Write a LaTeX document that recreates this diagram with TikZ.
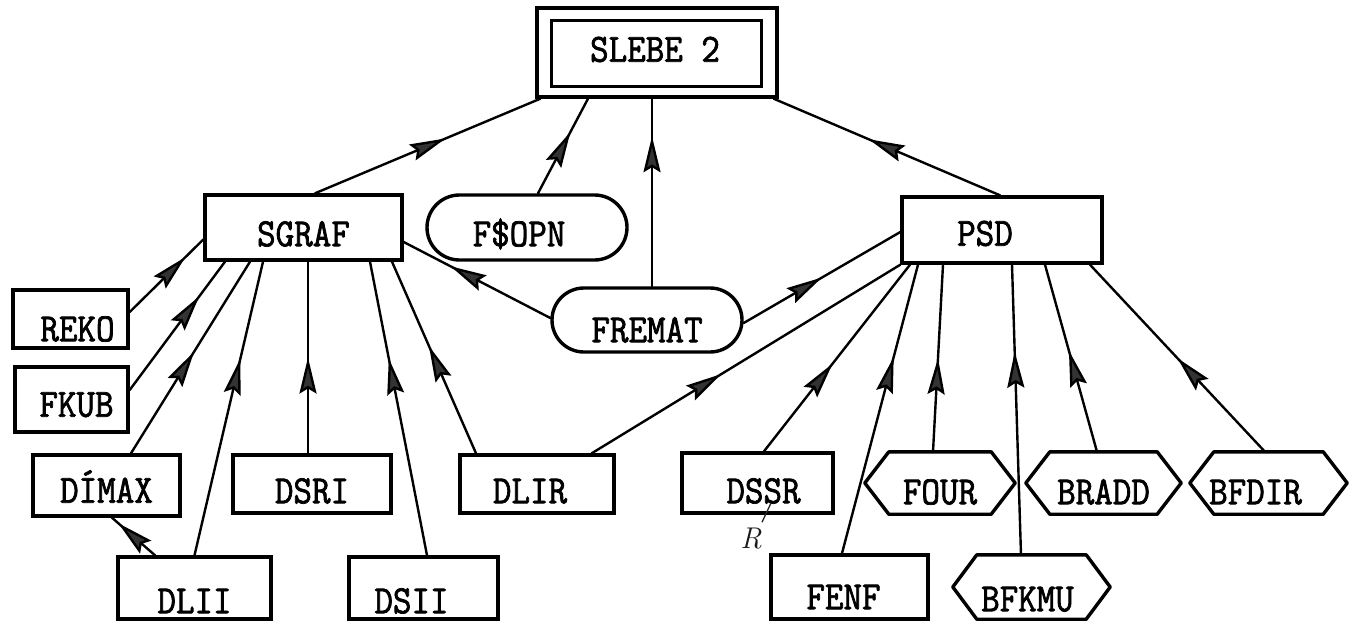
\documentclass[tikz,border=0pt]{standalone}
\usepackage{fontspec}
\newfontfamily\tw[FakeBold=1.8,FakeStretch=0.9]{Latin Modern Mono}
\usetikzlibrary{arrows.meta,decorations.markings,shapes.misc,calc}
\tikzset{
  bx/.style={draw, line width=3.4pt, rectangle, inner sep=0pt},
  pill/.style={draw, line width=3.4pt, rounded rectangle, inner sep=0pt},
  hx/.style={inner sep=0pt},
  lbl/.style={font=\tw\fontsize{40}{42}\selectfont, text height=24.4pt, text depth=0pt, inner sep=0pt},
  hexline/.style={line width=3.4pt, line join=round},
  conn/.style={line width=2.4pt, line cap=round, postaction={decorate},
    decoration={markings, mark=at position #1 with {\arrow{Stealth[length=36pt,width=17pt,inset=5pt,fill=black!80,color=black]}}}},
}
\newcommand\hexpath[1]{\draw[hexline] (#1.west) -- ([xshift=24pt]#1.north west) -- ([xshift=-24pt]#1.north east) -- (#1.east) -- ([xshift=-24pt]#1.south east) -- ([xshift=24pt]#1.south west) -- cycle;}
\begin{document}
\begin{tikzpicture}[x=1pt,y=-1pt]
\useasboundingbox (0,0) rectangle (1355,622);
\fill[white] (0,0) rectangle (1355,622);

% top
\node[bx, minimum width=240pt, minimum height=89pt, label={[lbl,name=slebeT,shift={(-2,-3)}]center:SLEBE 2}] (slebe) at (657,52.5) {};
\draw[line width=3.4pt] ($(slebe.south west)+(16,-12)$) rectangle ($(slebe.north east)+(-17,14)$);

% second level
\node[bx, minimum width=197pt, minimum height=65pt, label={[lbl,name=sgrafT,shift={(0,6.5)}]center:SGRAF}] (sgraf) at (303.5,227.5) {};
\node[pill, minimum width=200pt, minimum height=65pt, label={[lbl,name=fopnT,shift={(-8,6.5)}]center:F\$OPN}] (fopn) at (527,227.5) {};
\node[bx, minimum width=200pt, minimum height=66pt, label={[lbl,name=psdT,shift={(-17,3.5)}]center:PSD}] (psd) at (1002,230) {};
\node[pill, minimum width=190pt, minimum height=64pt, label={[lbl,name=frematT,shift={(0,10)}]center:FREMAT}] (fremat) at (647,320) {};

% left column
\node[bx, minimum width=115pt, minimum height=58pt, label={[lbl,name=rekoT,shift={(7,10)}]center:REKO}] (reko) at (70.5,319) {};
\node[bx, minimum width=113pt, minimum height=65pt, label={[lbl,name=fkubT,shift={(5,5)}]center:FKUB}] (fkub) at (71.5,399.5) {};

% third level
\node[bx, minimum width=147pt, minimum height=61pt, label={[lbl,name=dimaxT,shift={(0,5)}]center:DÍMAX}] (dimax) at (106.5,485.5) {};
\node[bx, minimum width=158pt, minimum height=58pt, label={[lbl,name=dsriT,shift={(0,7)}]center:DSRI}] (dsri) at (312,484) {};
\node[bx, minimum width=154pt, minimum height=58pt, label={[lbl,name=dlirT,shift={(-7,7)}]center:DLIR}] (dlir) at (537,484) {};
\node[bx, minimum width=151pt, minimum height=60pt, label={[lbl,name=dssrT,shift={(6,8)}]center:DSSR}] (dssr) at (757.5,483) {};
\node[hx, minimum width=150pt, minimum height=62pt, label={[lbl,name=fourT,shift={(0,9)}]center:FOUR}] (four) at (940,483) {};
\node[hx, minimum width=155pt, minimum height=62pt, label={[lbl,name=braddT,shift={(0,9)}]center:BRADD}] (bradd) at (1103.5,483) {};
\node[hx, minimum width=157pt, minimum height=62pt, label={[lbl,name=bfdirT,shift={(-13,9)}]center:BFDIR}] (bfdir) at (1268.5,483) {};

% bottom level
\node[bx, minimum width=153pt, minimum height=62pt, label={[lbl,name=dliiT,shift={(0,13)}]center:DLII}] (dlii) at (194.5,588) {};
\node[bx, minimum width=149pt, minimum height=62pt, label={[lbl,name=dsiiT,shift={(-12,13)}]center:DSII}] (dsii) at (423.5,588) {};
\node[bx, minimum width=157pt, minimum height=64pt, label={[lbl,name=fenfT,shift={(-6,10)}]center:FENF}] (fenf) at (849.5,587) {};
\node[hx, minimum width=157pt, minimum height=64pt, label={[lbl,name=bfkmuT,shift={(-4,12)}]center:BFKMU}] (bfkmu) at (1031.5,587) {};

\hexpath{four}
\hexpath{bradd}
\hexpath{bfdir}
\hexpath{bfkmu}

% handwritten mark
\node[font=\fontsize{30}{30}\selectfont\itshape, text=black!90, inner sep=0pt] (rmark) at (751,539) {R};
\draw[line width=1.3pt, black!85] ($(dssr.center)+(13.5,20)$) -- ($(rmark.north)+(11,-6)$);

% connectors
\draw[conn=0.58] ([xshift=11.5pt]sgraf.north) -- ([xshift=5pt]slebe.south west);
\draw[conn=0.65] ([xshift=11pt]fopn.north) -- ([xshift=-69pt]slebe.south);
\draw[conn=0.8] ([xshift=5pt]fremat.north) -- ([xshift=-5pt]slebe.south);
\draw[conn=0.58] ([xshift=-2pt]psd.north) -- ([xshift=-5pt]slebe.south east);
\draw[conn=0.76] ([yshift=7pt]reko.east) -- ([yshift=-12pt]sgraf.west);
\draw[conn=0.73] ([yshift=9.5pt]fkub.east) -- ([xshift=-78.5pt]sgraf.south);
\draw[conn=0.53] ([xshift=24.5pt]dimax.north) -- ([xshift=-53.5pt]sgraf.south);
\draw[conn=0.67] (dlii.north) -- ([xshift=-40.5pt]sgraf.south);
\draw[conn=0.5] ([xshift=-4pt]dsri.north) -- ([xshift=4.5pt]sgraf.south);
\draw[conn=0.67] ([xshift=3.5pt]dsii.north) -- ([xshift=66.5pt]sgraf.south);
\draw[conn=0.56] ([xshift=-61pt]dlir.north) -- ([xshift=88.5pt]sgraf.south);
\draw[conn=0.68] ([yshift=2pt]fremat.west) -- ([yshift=-14.5pt]sgraf.east);
\draw[conn=0.5] ([yshift=-3pt]fremat.east) -- ([yshift=-2pt]psd.west);
\draw[conn=0.42] ([xshift=-24pt]dlir.north east) -- (psd.south west);
\draw[conn=0.47] ([xshift=6.5pt]dssr.north) -- ([xshift=-92pt]psd.south);
\draw[conn=0.68] ([xshift=-7.5pt]fenf.north) -- ([xshift=-84pt]psd.south);
\draw[conn=0.5] ([xshift=-7pt]four.north) -- ([xshift=-59pt]psd.south);
\draw[conn=0.7] ([xshift=-10.5pt]bfkmu.north) -- ([xshift=10pt]psd.south);
\draw[conn=0.54] ([xshift=-6.5pt]bradd.north) -- ([xshift=43pt]psd.south);
\draw[conn=0.5] ([xshift=-3.5pt]bfdir.north) -- ([xshift=88pt]psd.south);
\draw[conn=0.85] ([xshift=-39.5pt]dlii.north) -- ([xshift=5.5pt]dimax.south);
\end{tikzpicture}
\end{document}
